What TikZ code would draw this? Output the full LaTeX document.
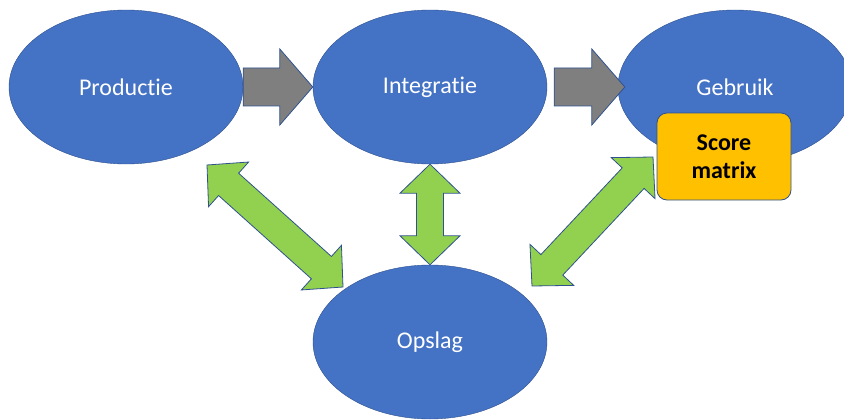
\documentclass[tikz,border=0pt]{standalone}
\usepackage{fontspec}
\setmainfont[RawFeature={-liga;-clig;-calt}]{Carlito}
\usetikzlibrary{shapes.geometric}
\usetikzlibrary{calc}

\definecolor{phaseblue}{HTML}{4472C4}
\definecolor{edgeblue}{HTML}{2F528F}
\definecolor{flowgray}{HTML}{7F7F7F}
\definecolor{linkgreen}{HTML}{92D050}
\definecolor{scoreorange}{HTML}{FFC000}

\tikzset{
    phase/.style = {ellipse, draw=edgeblue, fill=phaseblue, text=white,
        minimum width=234pt, minimum height=154pt, inner sep=0pt,
        font=\fontsize{24}{28}\selectfont},
    flow/.style = {draw=edgeblue, fill=flowgray, line width=0.8pt},
    link/.style = {draw=edgeblue, fill=linkgreen, line width=0.8pt},
    scorebox/.style = {draw=edgeblue, fill=scoreorange, rounded corners=10pt,
        minimum width=134pt, minimum height=87pt, align=center,
        line width=0.8pt, font=\bfseries\fontsize{24}{28}\selectfont}
}

% block arrow: #1 style, #2 tail, #3 tip
\newcommand{\fatarrow}[3]{
    \coordinate (fa-p) at ($(#3)!33pt!(#2)$);
    \path [#1] ($(#2)!19pt!90:(#3)$) -- ($(fa-p)!19pt!-90:(#2)$)
        -- ($(fa-p)!38pt!-90:(#2)$) -- (#3) -- ($(fa-p)!38pt!90:(#2)$)
        -- ($(fa-p)!19pt!90:(#2)$) -- ($(#2)!19pt!-90:(#3)$) -- cycle;
}
% block arrow with two heads: #1 style, #2 and #3 the tips, #4 half shaft
\newcommand{\fatdblarrow}[4]{
    \coordinate (fd-a) at ($(#2)!29pt!(#3)$);
    \coordinate (fd-b) at ($(#3)!29pt!(#2)$);
    \path [#1] (#2) -- ($(fd-a)!30pt!90:(#3)$) -- ($(fd-a)!#4!90:(#3)$)
        -- ($(fd-b)!#4!-90:(#2)$) -- ($(fd-b)!30pt!-90:(#2)$) -- (#3)
        -- ($(fd-b)!30pt!90:(#2)$) -- ($(fd-b)!#4!90:(#2)$)
        -- ($(fd-a)!#4!-90:(#3)$) -- ($(fd-a)!30pt!-90:(#3)$) -- cycle;
}

\begin{document}
\begin{tikzpicture}[x=1pt, y=-1pt]
    \useasboundingbox (0,0) rectangle (844,420);
    \clip (0,0) rectangle (844,420);

    % the four phases
    \node [phase] (prod) at (126,87) {Productie};
    \node [phase] (integ) at (430,87) {Integratie};
    \node [phase] (gebr) at (735,87) {Gebruik};
    \node [phase] (opslag) at (430,342) {Opslag};

    % flow along the top
    \fatarrow{flow}{prod.east}{integ.west}
    \coordinate (integout) at ($(integ.east)+(7,0)$);
    \coordinate (gebrin) at ($(gebr.west)+(7,0)$);
    \fatarrow{flow}{integout}{gebrin}

    % links with the storage
    \coordinate (prodlink) at (207,165);
    \coordinate (opslagleft) at (343,287);
    \coordinate (opslagright) at (532,286);
    \coordinate (scorelink) at (653,157);
    \fatdblarrow{link}{prodlink}{opslagleft}{15pt}
    \fatdblarrow{link}{integ.south}{opslag.north}{13.5pt}
    \fatdblarrow{link}{opslagright}{scorelink}{15pt}

    \node [scorebox] (score) at (724,156.5) {Score\\matrix};
\end{tikzpicture}
\end{document}
